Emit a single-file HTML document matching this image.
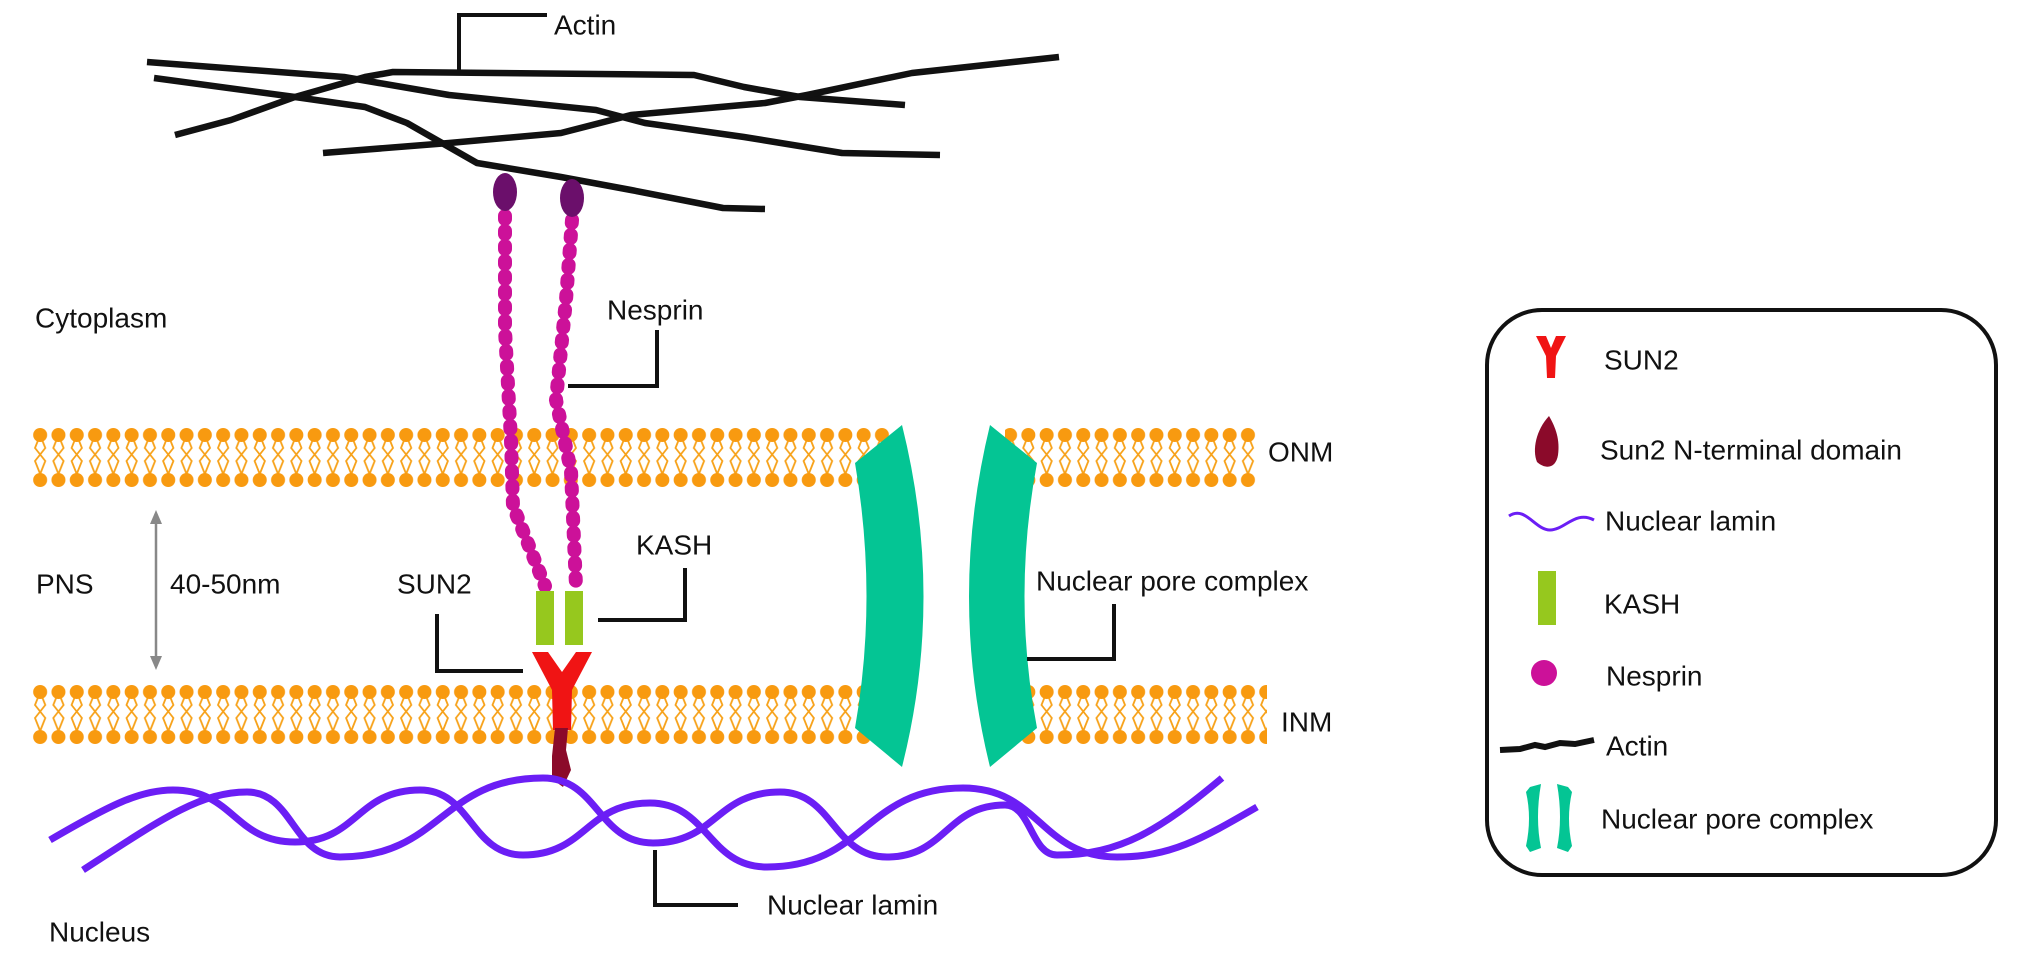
<!DOCTYPE html>
<html><head><meta charset="utf-8"><style>
html,body{margin:0;padding:0;background:#fff;}
svg{display:block;}
text{font-family:"Liberation Sans",Arial,sans-serif;font-size:28px;fill:#111;dominant-baseline:central;}
</style></head><body>
<svg width="2031" height="953" viewBox="0 0 2031 953" xmlns="http://www.w3.org/2000/svg">
<defs>
<pattern id="memA" patternUnits="userSpaceOnUse" x="31" y="428" width="18.3" height="61">
 <g stroke="#f7a21a" stroke-width="1.8" fill="none">
  <path d="M9.15,7 L4,20 L14.3,33 L9.15,46 M9.15,7 L14.3,20 L4,33 L9.15,46"/>
 </g>
 <circle cx="9.15" cy="7" r="7" fill="#f89a10"/>
 <circle cx="9.15" cy="52" r="7" fill="#f89a10"/>
</pattern>
<pattern id="memB" patternUnits="userSpaceOnUse" x="31" y="685" width="18.3" height="61">
 <g stroke="#f7a21a" stroke-width="1.8" fill="none">
  <path d="M9.15,7 L4,20 L14.3,33 L9.15,46 M9.15,7 L14.3,20 L4,33 L9.15,46"/>
 </g>
 <circle cx="9.15" cy="7" r="7" fill="#f89a10"/>
 <circle cx="9.15" cy="52" r="7" fill="#f89a10"/>
</pattern>
</defs>

<!-- membranes -->
<rect x="31" y="428" width="860" height="61" fill="url(#memA)"/>
<rect x="1005" y="428" width="252" height="61" fill="url(#memA)"/>
<rect x="31" y="685" width="860" height="61" fill="url(#memB)"/>
<rect x="1005" y="685" width="262" height="61" fill="url(#memB)"/>

<!-- actin -->
<g stroke="#111" stroke-width="6.5" fill="none" stroke-linejoin="round">
<path d="M147,62 L344,77 L379,83 L449,95 L596,110 L645,123 L744,137 L842,153 L940,155"/>
<path d="M175,135 L231,120 L295,97 L365,77 L393,72 L694,75 L744,87 L800,97 L905,105"/>
<path d="M154,78 L295,97 L365,107 L407,123 L442,143 L477,163 L561,177 L631,190 L723,208 L765,209"/>
<path d="M323,153 L449,143 L561,133 L631,115 L765,103 L807,95 L912,73 L1059,57"/>
</g>
<path d="M459,70 V15 H547" stroke="#111" stroke-width="4" fill="none"/>
<text x="554" y="25">Actin</text>

<!-- nesprin -->
<g stroke="#cc1199" stroke-width="14" fill="none" stroke-linecap="round" stroke-dasharray="3 12">
<path d="M505,216 L505,330 L511,440 L513,506 L545,586"/>
<path d="M572,220 L566,300 L556,400 L571,471 L576,586"/>
</g>
<ellipse cx="505" cy="192" rx="12" ry="19" fill="#6b0f6b"/>
<ellipse cx="572" cy="198" rx="12" ry="19" fill="#6b0f6b"/>
<path d="M657,330 V386 H568" stroke="#111" stroke-width="4" fill="none"/>
<text x="607" y="310">Nesprin</text>
<text x="35" y="318">Cytoplasm</text>

<!-- KASH -->
<rect x="536" y="591" width="18" height="54" fill="#96c81e"/>
<rect x="565" y="591" width="18" height="54" fill="#96c81e"/>
<text x="636" y="545">KASH</text>
<path d="M685,568 V620 H598" stroke="#111" stroke-width="4" fill="none"/>

<!-- SUN2 -->
<polygon points="532,652 548,652 562,672 576,652 592,652 572,690 571,730 553,730 552,690" fill="#f01414"/>
<polygon points="555,728 568,728 566,750 571,770 563,787 552,779 552,756" fill="#8b0a2a"/>
<text x="397" y="584">SUN2</text>
<path d="M437,614 V671 H523" stroke="#111" stroke-width="4" fill="none"/>

<!-- PNS -->
<line x1="156" y1="520" x2="156" y2="660" stroke="#888" stroke-width="2.5"/>
<polygon points="156,510 150,524 162,524" fill="#888"/>
<polygon points="156,670 150,656 162,656" fill="#888"/>
<text x="36" y="584">PNS</text>
<text x="170" y="584">40-50nm</text>

<!-- NPC -->
<path d="M902,425 L855,463 Q878,597 855,728 L902,767 Q945,597 902,425 Z" fill="#04c594"/>
<path d="M990,425 L1037,463 Q1012,597 1037,728 L990,767 Q948,597 990,425 Z" fill="#04c594"/>
<text x="1036" y="581">Nuclear pore complex</text>
<path d="M1114,604 V659 H1027" stroke="#111" stroke-width="4" fill="none"/>

<text x="1268" y="452">ONM</text>
<text x="1281" y="722">INM</text>

<!-- lamin -->
<g stroke="#6b1ef5" stroke-width="7" fill="none" stroke-linecap="butt">
<path d="M50,840 C110,805 140,790 173,790 C234,790 234,842 295,842 C357,842 357,790 420,790 C471,790 471,855 523,855 C586,855 586,803 650,803 C708,803 708,867 767,867 C865,867 865,788 963,788 C1040,788 1040,857 1117,857 C1170,857 1200,840 1257,807"/>
<path d="M83,870 C160,820 200,792 247,792 C293,792 293,857 340,857 C441,857 441,778 543,778 C598,778 598,843 653,843 C716,843 716,792 780,792 C833,792 833,857 887,857 C946,857 946,805 1005,805 C1031,805 1031,855 1057,855 C1120,855 1160,830 1222,778"/>
</g>
<path d="M655,850 V905 H738" stroke="#111" stroke-width="4" fill="none"/>
<text x="767" y="905">Nuclear lamin</text>
<text x="49" y="932">Nucleus</text>

<!-- legend -->
<rect x="1487" y="310" width="509" height="565" rx="55" ry="55" fill="none" stroke="#111" stroke-width="4"/>
<polygon points="1536,336 1546,336 1551,348 1556,336 1566,336 1556,356 1555,378 1547,378 1546,356" fill="#f01414"/>
<text x="1604" y="360">SUN2</text>
<path d="M1549,416 C1556,428 1560,440 1558,455 C1556,468 1546,470 1537,462 C1532,450 1536,430 1549,416 Z" fill="#8b0a2a"/>
<text x="1600" y="450">Sun2 N-terminal domain</text>
<path d="M1509,516 C1525,505 1535,530 1550,530 C1565,530 1575,510 1594,520" stroke="#6b1ef5" stroke-width="3" fill="none"/>
<text x="1605" y="521">Nuclear lamin</text>
<rect x="1538" y="571" width="18" height="54" fill="#96c81e"/>
<text x="1604" y="604">KASH</text>
<circle cx="1544" cy="673" r="13" fill="#cc1199"/>
<text x="1606" y="676">Nesprin</text>
<path d="M1500,750 L1520,749 L1535,745 L1545,747 L1560,743 L1575,744 L1594,740" stroke="#111" stroke-width="6" fill="none"/>
<text x="1606" y="746">Actin</text>
<path d="M1530,787 L1541,784 Q1535,818 1541,848 L1530,852 L1526,846 Q1532,818 1526,792 Z" fill="#04c594"/>
<path d="M1568,787 L1557,784 Q1563,818 1557,848 L1568,852 L1572,846 Q1566,818 1572,792 Z" fill="#04c594"/>
<text x="1601" y="819">Nuclear pore complex</text>
</svg>
</body></html>
